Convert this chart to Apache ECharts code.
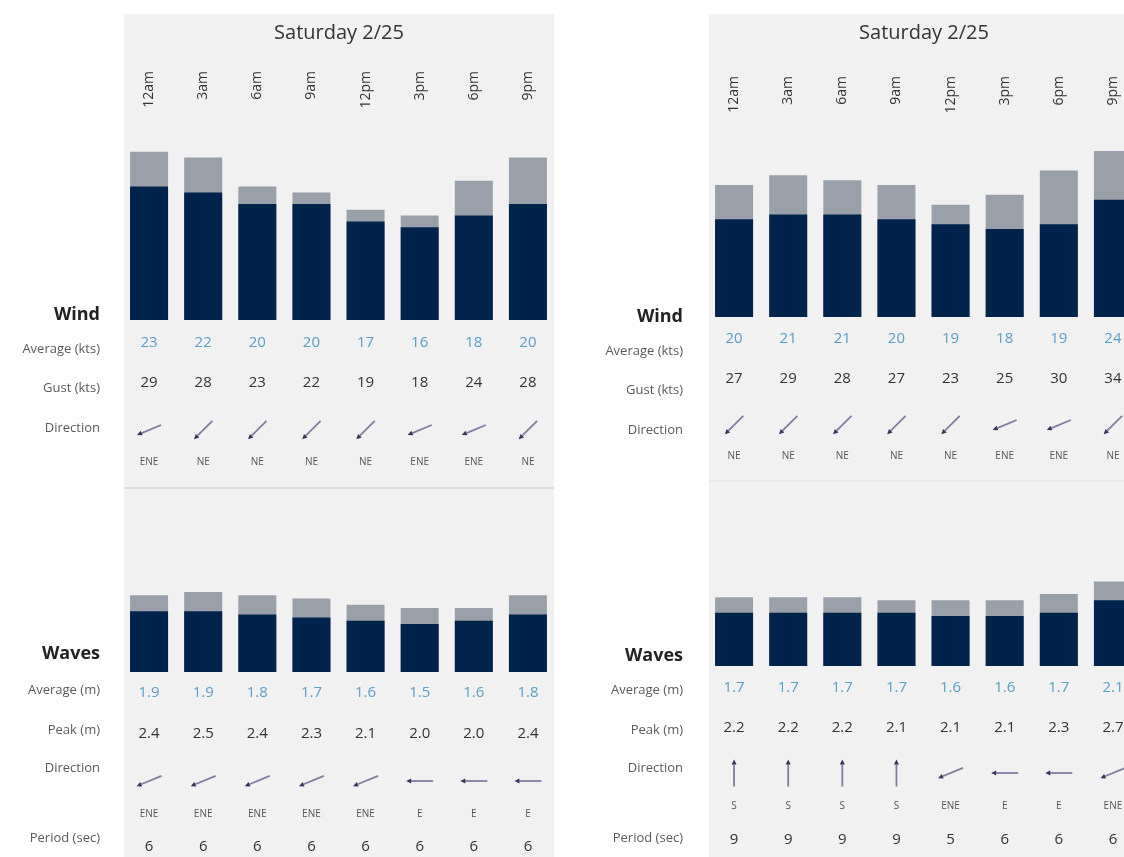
<!DOCTYPE html>
<html><head><meta charset="utf-8">
<script src="https://cdn.jsdelivr.net/npm/echarts@6/dist/echarts.min.js"></script>
<style>html,body{margin:0;padding:0;background:#fff;overflow:hidden}#c{width:1160px;height:857px}</style>
</head><body><div id="c"></div>
<script>
// ---------- data ----------
const dayTitle = 'Saturday 2/25';
const times = ['12am', '3am', '6am', '9am', '12pm', '3pm', '6pm', '9pm'];

const windAvgL  = [23, 22, 20, 20, 17, 16, 18, 20];
const windGustL = [29, 28, 23, 22, 19, 18, 24, 28];
const windDirL  = ['ENE', 'NE', 'NE', 'NE', 'NE', 'ENE', 'ENE', 'NE'];
const waveAvgL  = [1.9, 1.9, 1.8, 1.7, 1.6, 1.5, 1.6, 1.8];
const wavePeakL = [2.4, 2.5, 2.4, 2.3, 2.1, 2.0, 2.0, 2.4];
const waveDirL  = ['ENE', 'ENE', 'ENE', 'ENE', 'ENE', 'E', 'E', 'E'];
const periodL   = [6, 6, 6, 6, 6, 6, 6, 6];

const windAvgR  = [20, 21, 21, 20, 19, 18, 19, 24];
const windGustR = [27, 29, 28, 27, 23, 25, 30, 34];
const windDirR  = ['NE', 'NE', 'NE', 'NE', 'NE', 'ENE', 'ENE', 'NE'];
const waveAvgR  = [1.7, 1.7, 1.7, 1.7, 1.6, 1.6, 1.7, 2.1];
const wavePeakR = [2.2, 2.2, 2.2, 2.1, 2.1, 2.1, 2.3, 2.7];
const waveDirR  = ['S', 'S', 'S', 'S', 'ENE', 'E', 'E', 'ENE'];
const periodR   = [9, 9, 9, 9, 5, 6, 6, 6];

const windRowLabels = ['Average (kts)', 'Gust (kts)', 'Direction'];
const waveRowLabels = ['Average (m)', 'Peak (m)', 'Direction', 'Period (sec)'];

// ---------- styling ----------
const FONT = "'Open Sans', 'Noto Sans', 'DejaVu Sans', sans-serif";
const NAVY = '#00234b';
const GREY = '#9aa0a9';
const BLUE = '#5a9fc6';
const DARK = '#333333';

const chart = echarts.init(document.getElementById('c'), null, { renderer: 'canvas' });

const BEARING = { N: 0, NNE: 22.5, NE: 45, ENE: 67.5, E: 90, ESE: 112.5, SE: 135, SSE: 157.5,
  S: 180, SSW: 202.5, SW: 225, WSW: 247.5, W: 270, WNW: 292.5, NW: 315, NNW: 337.5 };

function arrowEls(cx, cy, d, len) {
  const t = (BEARING[d] + 180) * Math.PI / 180;
  const v = [Math.sin(t), -Math.cos(t)];
  const x1 = cx - v[0] * len / 2, y1 = cy - v[1] * len / 2;
  const x2 = cx + v[0] * len / 2, y2 = cy + v[1] * len / 2;
  const hl = 5, hw = 2.5;
  const bx = x2 - v[0] * hl, by = y2 - v[1] * hl;
  const px = -v[1], py = v[0];
  return [
    { type: 'line', shape: { x1: x1, y1: y1, x2: bx, y2: by }, style: { stroke: '#7e7ea0', lineWidth: 1.8 } },
    { type: 'polygon', shape: { points: [[x2, y2], [bx + px * hw, by + py * hw], [bx - px * hw, by - py * hw]] },
      style: { fill: '#34345a' } }
  ];
}

function txt(text, x, y, color, size, weight) {
  return { type: 'text', style: { text: text, x: x, y: y, align: 'center', verticalAlign: 'middle',
    textAlign: 'center', textVerticalAlign: 'middle', fill: color,
    font: (weight || 'normal') + ' ' + size + 'px ' + FONT } };
}

function rowsRenderer(rows) {
  return function (params, api) {
    const i = params.dataIndex;
    const p = api.coord([api.value(0), 0]);
    const x = p[0], y0 = p[1];
    let children = [];
    rows.forEach(function (r) {
      if (r.kind === 'text') {
        const v = r.arr[i];
        children.push(txt(r.fixed ? v.toFixed(1) : String(v), x, y0 + r.dy, r.color, r.size));
      } else {
        children = children.concat(arrowEls(x, y0 + r.dy, r.arr[i], r.len));
      }
    });
    return { type: 'group', children: children };
  };
}

const panels = [
  { gx: 122, bgX: 124, labX: 100, windTop: 146, windH: 174, windMax: 30, waveTop: 512, waveH: 160, waveMax: 5,
    labMargin: 75, sepY: 487, sepColor: '#dcdcdc',
    wa: windAvgL, wg: windGustL, wd: windDirL, va: waveAvgL, vp: wavePeakL, vd: waveDirL, vper: periodL,
    windOff: [23, 63, 110, 142], waveOff: [21, 62, 109, 142, 175],
    labY: { wind: 315, wrows: [349, 388, 428], waves: 654, vrows: [690, 730, 768, 838] } },
  { gx: 707, bgX: 709, labX: 683, windTop: 146, windH: 171, windMax: 35, waveTop: 509.5, waveH: 156.5, waveMax: 5,
    labMargin: 70, sepY: 480, sepColor: '#e8e8e8',
    wa: windAvgR, wg: windGustR, wd: windDirR, va: waveAvgR, vp: wavePeakR, vd: waveDirR, vper: periodR,
    windOff: [22, 62, 108, 139], waveOff: [22, 62, 107, 140, 174],
    labY: { wind: 317, wrows: [351, 390, 430], waves: 656, vrows: [690, 730, 768, 838] } }
];

const grid = [], xAxis = [], yAxis = [], series = [], graphic = [];
const GW = 433;

panels.forEach(function (P, k) {
  graphic.push({ type: 'rect', z: -10, shape: { x: P.bgX, y: 14, width: 430, height: 843 }, style: { fill: '#f1f1f1' } });
  graphic.push({ type: 'rect', z: -9, shape: { x: P.bgX, y: P.sepY, width: 430, height: 2 }, style: { fill: P.sepColor } });
  graphic.push({ type: 'text', x: P.bgX + 215, y: 33, style: { text: dayTitle, align: 'center', verticalAlign: 'middle',
    fill: DARK, font: 'normal 20px ' + FONT } });
  function rowLab(t, y, bold) {
    graphic.push({ type: 'text', x: P.labX, y: y, style: { text: t, align: 'right', verticalAlign: 'middle',
      fill: bold ? '#222' : '#5a5a5a', font: (bold ? 'bold 18px ' : 'normal 13px ') + FONT } });
  }
  rowLab('Wind', P.labY.wind, true);
  windRowLabels.forEach(function (t, j) { rowLab(t, P.labY.wrows[j], false); });
  rowLab('Waves', P.labY.waves, true);
  waveRowLabels.forEach(function (t, j) { rowLab(t, P.labY.vrows[j], false); });

  const gWind = grid.length;
  grid.push({ left: P.gx, top: P.windTop, width: GW, height: P.windH });
  grid.push({ left: P.gx, top: P.waveTop, width: GW, height: P.waveH });

  xAxis.push({ type: 'category', gridIndex: gWind, data: times, position: 'top',
    axisLine: { show: false }, axisTick: { show: false },
    axisLabel: { interval: 0, rotate: 90, align: 'right', verticalAlign: 'middle', margin: P.labMargin,
      fontSize: 14, color: '#333', fontFamily: FONT } });
  xAxis.push({ type: 'category', gridIndex: gWind + 1, data: times,
    axisLine: { show: false }, axisTick: { show: false }, axisLabel: { show: false } });

  yAxis.push({ type: 'value', gridIndex: gWind, min: 0, max: P.windMax, show: false });
  yAxis.push({ type: 'value', gridIndex: gWind + 1, min: 0, max: P.waveMax, show: false });

  series.push({ type: 'bar', name: 'Gust', xAxisIndex: gWind, yAxisIndex: gWind, data: P.wg,
    barWidth: 38, barGap: '-100%', itemStyle: { color: GREY }, silent: true });
  series.push({ type: 'bar', name: 'Average', xAxisIndex: gWind, yAxisIndex: gWind, data: P.wa,
    barWidth: 38, barGap: '-100%', itemStyle: { color: NAVY }, silent: true });
  series.push({ type: 'bar', name: 'Peak', xAxisIndex: gWind + 1, yAxisIndex: gWind + 1, data: P.vp,
    barWidth: 38, barGap: '-100%', itemStyle: { color: GREY }, silent: true });
  series.push({ type: 'bar', name: 'Wave avg', xAxisIndex: gWind + 1, yAxisIndex: gWind + 1, data: P.va,
    barWidth: 38, barGap: '-100%', itemStyle: { color: NAVY }, silent: true });

  const idx = times.map(function (_, i) { return [i, 0]; });
  series.push({ type: 'custom', xAxisIndex: gWind, yAxisIndex: gWind, data: idx, clip: false, silent: true, z: 5,
    encode: { x: 0, y: 1 },
    renderItem: rowsRenderer([
      { kind: 'text', arr: P.wa, dy: P.windOff[0], color: BLUE, size: 15 },
      { kind: 'text', arr: P.wg, dy: P.windOff[1], color: DARK, size: 15 },
      { kind: 'arrow', arr: P.wd, dy: P.windOff[2], len: 26 },
      { kind: 'text', arr: P.wd, dy: P.windOff[3], color: '#555', size: 10 }
    ]) });
  series.push({ type: 'custom', xAxisIndex: gWind + 1, yAxisIndex: gWind + 1, data: idx, clip: false, silent: true, z: 5,
    encode: { x: 0, y: 1 },
    renderItem: rowsRenderer([
      { kind: 'text', arr: P.va, dy: P.waveOff[0], color: BLUE, size: 15, fixed: true },
      { kind: 'text', arr: P.vp, dy: P.waveOff[1], color: DARK, size: 15, fixed: true },
      { kind: 'arrow', arr: P.vd, dy: P.waveOff[2], len: 27 },
      { kind: 'text', arr: P.vd, dy: P.waveOff[3], color: '#555', size: 10 },
      { kind: 'text', arr: P.vper, dy: P.waveOff[4], color: DARK, size: 15 }
    ]) });
});

chart.setOption({
  backgroundColor: '#ffffff',
  animation: false,
  grid: grid, xAxis: xAxis, yAxis: yAxis, series: series,
  graphic: { elements: graphic }
});
</script></body></html>
